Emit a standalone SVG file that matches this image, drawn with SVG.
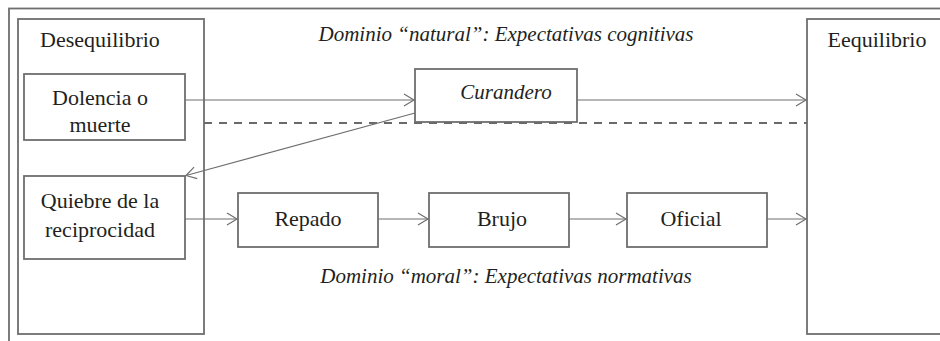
<svg xmlns="http://www.w3.org/2000/svg" width="940" height="341" viewBox="0 0 940 341">
<defs>
<marker id="arr" markerUnits="userSpaceOnUse" markerWidth="14" markerHeight="16" refX="11" refY="7" orient="auto">
<path d="M1,1 L11,7 L1,13" fill="none" stroke="#6f6f6f" stroke-width="1.2"/>
</marker>
</defs>
<style>
.box{fill:#fff;stroke:#6e6e6e;stroke-width:1.8}
.frame{fill:none;stroke:#6e6e6e;stroke-width:1.8}
.t{font-family:"Liberation Serif",serif;font-size:22px;fill:#231f20}
.it{font-family:"Liberation Serif",serif;font-size:21px;font-style:italic;fill:#231f20}
.c{stroke:#6f6f6f;stroke-width:1.2;fill:none}
.d{stroke:#6a6a6a;stroke-width:1.8;fill:none;stroke-dasharray:8 7}
</style>
<rect width="940" height="341" fill="#fff"/>
<rect class="frame" x="9" y="8.5" width="960" height="360"/>
<g id="desequilibrio">
<rect class="box" x="18" y="19" width="186" height="315"/>
<text class="t" x="100" y="47" text-anchor="middle">Desequilibrio</text>
</g>
<g id="equilibrio">
<rect class="box" x="807" y="19" width="160" height="315"/>
<text class="t" x="877" y="47" text-anchor="middle">Eequilibrio</text>
</g>
<g id="dominio-natural">
<text class="it" x="506" y="41" text-anchor="middle">Dominio “natural”: Expectativas cognitivas</text>
</g>
<g id="dominio-moral">
<text class="it" x="506" y="283" text-anchor="middle">Dominio “moral”: Expectativas normativas</text>
</g>
<g id="dolencia">
<rect class="box" x="24" y="74" width="161" height="66"/>
<text class="t" x="100" y="105" text-anchor="middle">Dolencia o</text>
<text class="t" x="100" y="132" text-anchor="middle">muerte</text>
</g>
<g id="curandero">
<rect class="box" x="415" y="69" width="162" height="53"/>
<text class="it" x="506" y="99" text-anchor="middle">Curandero</text>
</g>
<g id="quiebre">
<rect class="box" x="24" y="176" width="161" height="83"/>
<text class="t" x="100" y="208" text-anchor="middle">Quiebre de la</text>
<text class="t" x="100" y="237" text-anchor="middle">reciprocidad</text>
</g>
<g id="repado">
<rect class="box" x="238" y="193" width="140" height="54"/>
<text class="t" x="308" y="226" text-anchor="middle">Repado</text>
</g>
<g id="brujo">
<rect class="box" x="429" y="193" width="140" height="54"/>
<text class="t" x="502" y="226" text-anchor="middle">Brujo</text>
</g>
<g id="oficial">
<rect class="box" x="627" y="193" width="140" height="54"/>
<text class="t" x="691" y="226" text-anchor="middle">Oficial</text>
</g>
<g id="connectors">
<line class="d" x1="204" y1="123" x2="807" y2="123"/>
<line class="c" x1="185" y1="100" x2="414" y2="100" marker-end="url(#arr)"/>
<line class="c" x1="577" y1="100" x2="806" y2="100" marker-end="url(#arr)"/>
<line class="c" x1="415" y1="113" x2="186" y2="175.5" marker-end="url(#arr)"/>
<line class="c" x1="185" y1="219" x2="237" y2="219" marker-end="url(#arr)"/>
<line class="c" x1="378" y1="219" x2="428" y2="219" marker-end="url(#arr)"/>
<line class="c" x1="569" y1="219" x2="626" y2="219" marker-end="url(#arr)"/>
<line class="c" x1="767" y1="219" x2="806" y2="219" marker-end="url(#arr)"/>
</g>
</svg>
